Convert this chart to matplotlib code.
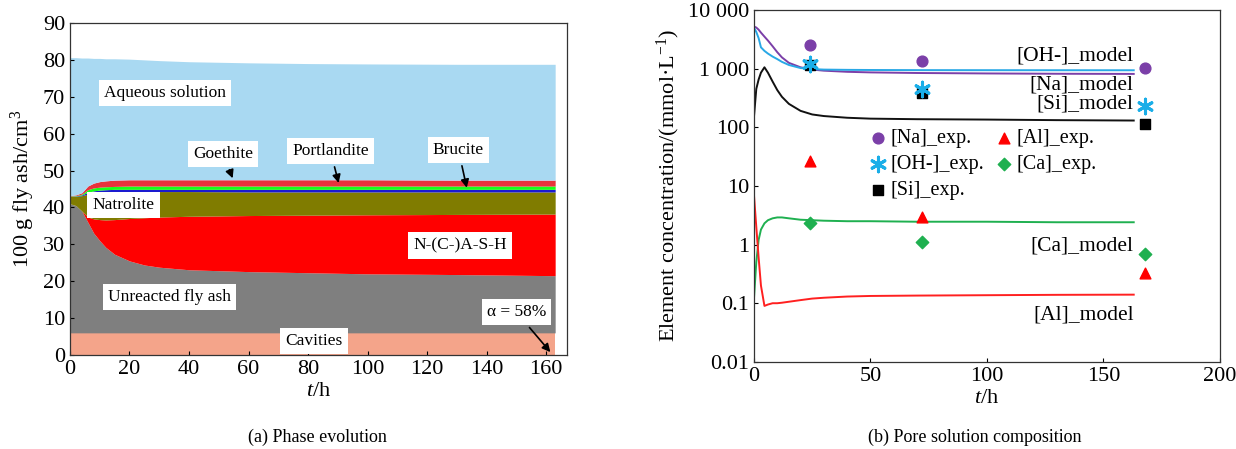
import numpy as np
import matplotlib
matplotlib.use("Agg")
import matplotlib.pyplot as plt
from matplotlib.ticker import FixedLocator, NullLocator

plt.rcParams['font.family'] = ['Liberation Serif', 'DejaVu Serif']
plt.rcParams['mathtext.fontset'] = 'custom'
plt.rcParams['mathtext.rm'] = 'Liberation Serif'
plt.rcParams['mathtext.it'] = 'Liberation Serif:italic'

# ---------------- (a) Phase evolution data (cumulative tops, cm3) ----------------
t_phase = [0, 2, 4, 6, 8, 10, 12, 15, 20, 25, 30, 40, 60, 80, 100, 130, 163]
cavities_top = [6.0] * 17
flyash_top = [41.0, 40.5, 39.0, 36.0, 33.0, 31.0, 29.2, 27.3, 25.5, 24.4, 23.8, 23.1, 22.6, 22.3, 22.0, 21.8, 21.5]
nash_top = [41.0, 40.5, 39.0, 37.4, 36.9, 36.7, 36.6, 36.7, 37.0, 37.2, 37.4, 37.6, 37.8, 37.9, 38.0, 38.1, 38.2]
natrolite_top = [43.0, 43.0, 43.2, 43.6, 43.9, 44.1, 44.2, 44.3, 44.3, 44.3, 44.3, 44.3, 44.2, 44.2, 44.2, 44.2, 44.2]
brucite_top = [43.0, 43.1, 43.4, 44.1, 44.5, 44.7, 44.8, 44.9, 44.9, 44.9, 44.9, 44.9, 44.9, 44.9, 44.9, 44.9, 44.9]
portlandite_top = [43.1, 43.2, 43.6, 44.8, 45.3, 45.5, 45.6, 45.7, 45.8, 45.8, 45.8, 45.8, 45.8, 45.8, 45.8, 45.8, 45.8]
goethite_top = [43.2, 43.4, 44.0, 45.8, 46.6, 47.0, 47.2, 47.4, 47.5, 47.5, 47.5, 47.5, 47.5, 47.5, 47.5, 47.4, 47.4]
aqueous_top = [80.6, 80.6, 80.5, 80.5, 80.4, 80.4, 80.3, 80.3, 80.2, 80.0, 79.8, 79.5, 79.2, 79.0, 78.9, 78.8, 78.8]

phase_names = ["Cavities", "Unreacted fly ash", "N-(C-)A-S-H", "Natrolite",
               "Brucite", "Portlandite", "Goethite", "Aqueous solution"]
phase_colors = ["#f4a48a", "#7f7f7f", "#ff0000", "#807c00",
                "#1a1ad0", "#19ff19", "#e8323c", "#a9d9f2"]

# ---------------- (b) Pore solution data ----------------
t_model = [0, 1, 2, 3, 4.5, 6, 8, 10, 12, 15, 20, 25, 30, 40, 50, 70, 100, 130, 163]
oh_model = [5000, 4200, 3300, 2300, 2000, 1800, 1600, 1450, 1300, 1150, 1020, 980, 960, 950, 945, 940, 938, 936, 935]
na_model = [5200, 5000, 4600, 4100, 3500, 3000, 2400, 1900, 1550, 1250, 1050, 960, 920, 880, 860, 840, 825, 815, 810]
si_model = [150, 450, 650, 850, 1050, 850, 600, 430, 330, 250, 190, 165, 155, 145, 140, 137, 135, 132, 130]
ca_model = [0.12, 0.5, 1.2, 1.8, 2.3, 2.6, 2.8, 2.9, 2.9, 2.8, 2.65, 2.6, 2.55, 2.5, 2.5, 2.45, 2.45, 2.4, 2.4]
al_model = [7.0, 2.0, 0.6, 0.2, 0.09, 0.095, 0.1, 0.1, 0.102, 0.106, 0.113, 0.12, 0.124, 0.13, 0.133, 0.135, 0.137, 0.139, 0.14]

t_exp = [24, 72, 168]
na_exp = [2550, 1350, 1020]
oh_exp = [1200, 450, 230]
si_exp = [1150, 380, 115]
al_exp = [27, 3.0, 0.33]
ca_exp = [2.35, 1.1, 0.70]

fig = plt.figure(figsize=(12.36, 4.49), dpi=100)

# ================= Left panel =================
ax1 = fig.add_axes([0.0566, 0.2094, 0.4022, 0.7394])
tops = [cavities_top, flyash_top, nash_top, natrolite_top, brucite_top,
        portlandite_top, goethite_top, aqueous_top]
lower = np.zeros(len(t_phase))
for top, c in zip(tops, phase_colors):
    top = np.array(top)
    ax1.fill_between(t_phase, lower, top, color=c, linewidth=0)
    lower = top
ax1.set_xlim(0, 167)
ax1.set_ylim(0, 90)
ax1.set_xticks(range(0, 161, 20))
ax1.set_yticks(range(0, 91, 10))
ax1.tick_params(direction='in', length=3, labelsize=16, width=0.8)
ax1.set_xlabel(r"$\it{t}$/h", fontsize=16, labelpad=2)
ax1.set_ylabel(r"100 g fly ash/cm$^3$", fontsize=16, labelpad=4)
for s in ax1.spines.values():
    s.set_linewidth(0.9)
    s.set_color("#333333")

fs = 12.5
box = dict(boxstyle="square,pad=0.3", facecolor="white", edgecolor="none")
ax1.text(32, 71, "Aqueous solution", fontsize=fs, ha='center', va='center', bbox=box)
ax1.text(33.5, 15.7, "Unreacted fly ash", fontsize=fs, ha='center', va='center', bbox=box)
ax1.text(18, 40.6, "Natrolite", fontsize=fs, ha='center', va='center', bbox=box)
ax1.text(131, 29.7, "N-(C-)A-S-H", fontsize=fs, ha='center', va='center', bbox=box)
ax1.text(82, 3.8, "Cavities", fontsize=fs, ha='center', va='center', bbox=box)
arrow = dict(arrowstyle="-|>", color="black", lw=1.2, mutation_scale=12)
ax1.annotate("Goethite", xy=(55, 47.2), xytext=(51.5, 54.5), fontsize=fs,
             ha='center', va='center', bbox=box, arrowprops=arrow)
ax1.annotate("Portlandite", xy=(90.5, 45.9), xytext=(87.5, 55.3), fontsize=fs,
             ha='center', va='center', bbox=box, arrowprops=arrow)
ax1.annotate("Brucite", xy=(133.5, 44.6), xytext=(130.5, 55.6), fontsize=fs,
             ha='center', va='center', bbox=box, arrowprops=arrow)
ax1.annotate(r"α = 58%", xy=(162, 0.2), xytext=(150, 11.6), fontsize=fs,
             ha='center', va='center', bbox=box, arrowprops=arrow)
fig.text(0.2565, 0.025, "(a) Phase evolution", fontsize=13, ha='center', va='center')

# ================= Right panel =================
ax2 = fig.add_axes([0.610, 0.194, 0.377, 0.784])
ax2.set_yscale('log')
ax2.plot(t_model, na_model, color="#7b3fa8", lw=1.4)
ax2.plot(t_model, oh_model, color="#29a8e6", lw=1.4)
ax2.plot(t_model, si_model, color="#111111", lw=1.4)
ax2.plot(t_model, ca_model, color="#1fb050", lw=1.4)
ax2.plot(t_model, al_model, color="#ff2020", lw=1.4)

ax2.scatter(t_exp, na_exp, marker='o', s=60, color="#7b3fa8", label="[Na]_exp.", zorder=3)
ax2.scatter(t_exp, oh_exp, marker=(6, 2, 0), s=110, color="#1aaee8", linewidths=2.2,
            label="[OH-]_exp.", zorder=4)
ax2.scatter(t_exp, si_exp, marker='s', s=60, color="black", label="[Si]_exp.", zorder=3)
ax2.scatter(t_exp, al_exp, marker='^', s=60, color="#ff0000", label="[Al]_exp.", zorder=3)
ax2.scatter(t_exp, ca_exp, marker='D', s=40, color="#1fb050", label="[Ca]_exp.", zorder=3)

ax2.set_xlim(0, 200)
ax2.set_ylim(0.01, 10000)
ax2.set_xticks([0, 50, 100, 150, 200])
yt = [0.01, 0.1, 1, 10, 100, 1000, 10000]
ax2.yaxis.set_major_locator(FixedLocator(yt))
ax2.yaxis.set_minor_locator(NullLocator())
ax2.set_yticklabels(["0.01", "0.1", "1", "10", "100", "1 000", "10 000"])
ax2.tick_params(direction='in', length=3, labelsize=16, width=0.8)
ax2.set_xlabel(r"$\it{t}$/h", fontsize=16, labelpad=2)
ax2.set_ylabel(r"Element concentration/(mmol·L$^{-1}$)", fontsize=16, labelpad=4)
for s in ax2.spines.values():
    s.set_linewidth(0.9)
    s.set_color("#333333")

for txt, yv in [("[OH-]_model", 1650), ("[Na]_model", 530), ("[Si]_model", 245),
                ("[Ca]_model", 0.95), ("[Al]_model", 0.063)]:
    ax2.text(163, yv, txt, fontsize=15.5, ha='right', va='center')

h, l = ax2.get_legend_handles_labels()
leg = ax2.legend(h, l, ncol=2, frameon=False,
                 fontsize=14.5, loc='center', bbox_to_anchor=(0.49, 0.56),
                 handletextpad=0.1, columnspacing=0.5, labelspacing=0.35,
                 handlelength=1.0, borderaxespad=0)
fig.text(0.789, 0.025, "(b) Pore solution composition", fontsize=13, ha='center', va='center')

fig.savefig("out.png", dpi=100)
